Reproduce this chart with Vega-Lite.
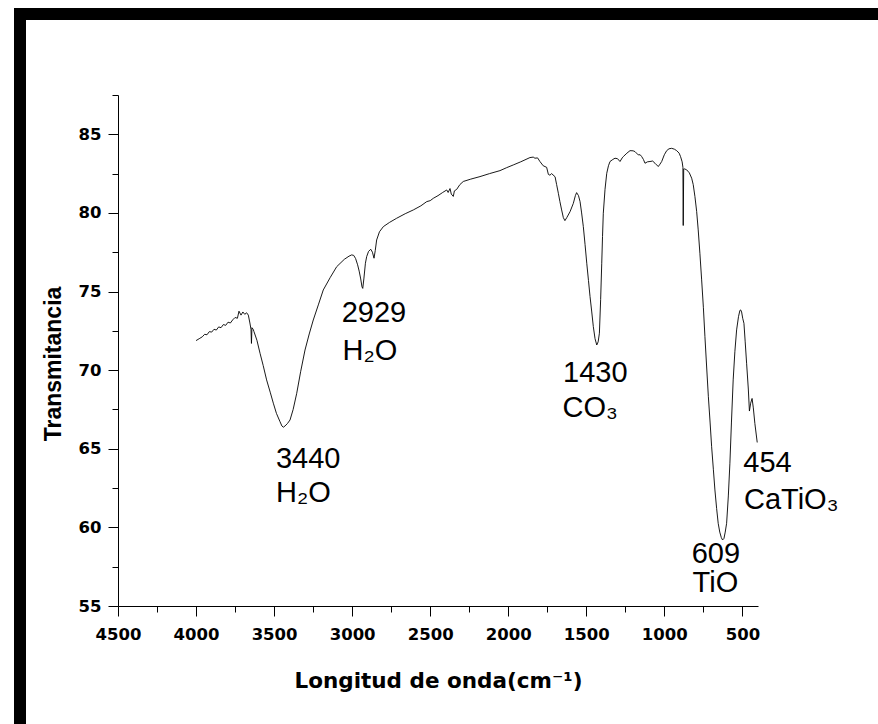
{
  "$schema": "https://vega.github.io/schema/vega-lite/v6.json",
  "autosize": "none",
  "width": 858,
  "height": 710,
  "padding": {"left": 20, "top": 14, "right": 0, "bottom": 0},
  "background": "white",
  "config": {
    "view": {"stroke": "black", "strokeWidth": 12, "strokeDash": [858, 1568, 710, 0], "strokeCap": "square"}
  },
  "datasets": {
    "spectrum": [
      {"x": 4000, "y": 71.88}, {"x": 3980, "y": 72.0}, {"x": 3960, "y": 72.12}, {"x": 3945, "y": 72.28}, {"x": 3930, "y": 72.25},
      {"x": 3915, "y": 72.45}, {"x": 3900, "y": 72.42}, {"x": 3885, "y": 72.6}, {"x": 3870, "y": 72.55}, {"x": 3855, "y": 72.75},
      {"x": 3840, "y": 72.7}, {"x": 3825, "y": 72.9}, {"x": 3810, "y": 72.85}, {"x": 3795, "y": 73.05}, {"x": 3780, "y": 73.0},
      {"x": 3765, "y": 73.2}, {"x": 3750, "y": 73.35}, {"x": 3735, "y": 73.3}, {"x": 3725, "y": 73.75}, {"x": 3712, "y": 73.5},
      {"x": 3700, "y": 73.7}, {"x": 3688, "y": 73.55}, {"x": 3676, "y": 73.65}, {"x": 3665, "y": 73.5}, {"x": 3655, "y": 73.0},
      {"x": 3648, "y": 72.6}, {"x": 3645, "y": 71.7}, {"x": 3642, "y": 72.7}, {"x": 3634, "y": 72.6}, {"x": 3629, "y": 72.45},
      {"x": 3610, "y": 71.9}, {"x": 3590, "y": 71.07}, {"x": 3570, "y": 70.3}, {"x": 3548, "y": 69.38}, {"x": 3525, "y": 68.6},
      {"x": 3505, "y": 67.9}, {"x": 3485, "y": 67.25}, {"x": 3462, "y": 66.72}, {"x": 3450, "y": 66.45}, {"x": 3441, "y": 66.37},
      {"x": 3430, "y": 66.45}, {"x": 3415, "y": 66.6}, {"x": 3398, "y": 66.83}, {"x": 3378, "y": 67.5}, {"x": 3355, "y": 68.53},
      {"x": 3330, "y": 69.9}, {"x": 3302, "y": 71.28}, {"x": 3275, "y": 72.3}, {"x": 3249, "y": 73.19}, {"x": 3215, "y": 74.2},
      {"x": 3185, "y": 75.1}, {"x": 3140, "y": 75.9}, {"x": 3099, "y": 76.58}, {"x": 3050, "y": 77.05}, {"x": 3020, "y": 77.25},
      {"x": 3003, "y": 77.33}, {"x": 2990, "y": 77.3}, {"x": 2978, "y": 77.1}, {"x": 2965, "y": 76.7}, {"x": 2955, "y": 76.3},
      {"x": 2945, "y": 75.8}, {"x": 2937, "y": 75.3}, {"x": 2932, "y": 75.2}, {"x": 2925, "y": 75.8}, {"x": 2915, "y": 76.8},
      {"x": 2907, "y": 77.22}, {"x": 2895, "y": 77.55}, {"x": 2881, "y": 77.69}, {"x": 2870, "y": 77.5}, {"x": 2860, "y": 77.12},
      {"x": 2852, "y": 77.6}, {"x": 2843, "y": 78.28}, {"x": 2825, "y": 78.8}, {"x": 2800, "y": 79.13}, {"x": 2760, "y": 79.4},
      {"x": 2715, "y": 79.66}, {"x": 2660, "y": 79.95}, {"x": 2608, "y": 80.19}, {"x": 2560, "y": 80.45}, {"x": 2522, "y": 80.72},
      {"x": 2500, "y": 80.78}, {"x": 2480, "y": 80.93}, {"x": 2450, "y": 81.1}, {"x": 2420, "y": 81.3}, {"x": 2394, "y": 81.46},
      {"x": 2385, "y": 81.3}, {"x": 2373, "y": 81.55}, {"x": 2365, "y": 81.2}, {"x": 2352, "y": 81.05}, {"x": 2345, "y": 81.4},
      {"x": 2330, "y": 81.5}, {"x": 2310, "y": 81.8}, {"x": 2288, "y": 82.0}, {"x": 2240, "y": 82.15}, {"x": 2181, "y": 82.31},
      {"x": 2120, "y": 82.5}, {"x": 2053, "y": 82.69}, {"x": 2010, "y": 82.88}, {"x": 1968, "y": 83.05}, {"x": 1920, "y": 83.25},
      {"x": 1861, "y": 83.52}, {"x": 1840, "y": 83.55}, {"x": 1829, "y": 83.48}, {"x": 1812, "y": 83.5}, {"x": 1797, "y": 83.27},
      {"x": 1776, "y": 83.0}, {"x": 1754, "y": 82.9}, {"x": 1743, "y": 82.45}, {"x": 1733, "y": 82.4}, {"x": 1722, "y": 82.5},
      {"x": 1700, "y": 82.3}, {"x": 1690, "y": 81.8}, {"x": 1679, "y": 81.25}, {"x": 1669, "y": 80.72}, {"x": 1658, "y": 80.19},
      {"x": 1647, "y": 79.7}, {"x": 1637, "y": 79.51}, {"x": 1625, "y": 79.7}, {"x": 1604, "y": 80.08}, {"x": 1583, "y": 80.61},
      {"x": 1570, "y": 81.1}, {"x": 1562, "y": 81.29}, {"x": 1550, "y": 81.1}, {"x": 1540, "y": 80.72}, {"x": 1530, "y": 80.0},
      {"x": 1519, "y": 79.13}, {"x": 1508, "y": 78.0}, {"x": 1497, "y": 76.8}, {"x": 1486, "y": 75.7}, {"x": 1476, "y": 74.68},
      {"x": 1465, "y": 73.7}, {"x": 1455, "y": 72.77}, {"x": 1444, "y": 72.0}, {"x": 1433, "y": 71.6}, {"x": 1424, "y": 71.8},
      {"x": 1416, "y": 72.35}, {"x": 1408, "y": 74.5}, {"x": 1401, "y": 76.8}, {"x": 1396, "y": 78.5}, {"x": 1391, "y": 79.98},
      {"x": 1380, "y": 81.5}, {"x": 1369, "y": 82.52}, {"x": 1358, "y": 83.0}, {"x": 1348, "y": 83.27}, {"x": 1330, "y": 83.4},
      {"x": 1316, "y": 83.48}, {"x": 1300, "y": 83.45}, {"x": 1284, "y": 83.27}, {"x": 1270, "y": 83.5}, {"x": 1263, "y": 83.58},
      {"x": 1240, "y": 83.8}, {"x": 1220, "y": 83.96}, {"x": 1200, "y": 83.95}, {"x": 1188, "y": 83.9}, {"x": 1167, "y": 83.69},
      {"x": 1155, "y": 83.7}, {"x": 1145, "y": 83.58}, {"x": 1134, "y": 83.4}, {"x": 1124, "y": 83.16}, {"x": 1108, "y": 83.25},
      {"x": 1092, "y": 83.27}, {"x": 1075, "y": 83.3}, {"x": 1060, "y": 83.16}, {"x": 1039, "y": 82.95}, {"x": 1028, "y": 83.1},
      {"x": 1017, "y": 83.27}, {"x": 1000, "y": 83.7}, {"x": 985, "y": 83.96}, {"x": 970, "y": 84.08}, {"x": 953, "y": 84.11},
      {"x": 935, "y": 84.05}, {"x": 921, "y": 83.96}, {"x": 905, "y": 83.8}, {"x": 896, "y": 83.58}, {"x": 886, "y": 83.25},
      {"x": 881, "y": 82.9}, {"x": 879, "y": 79.2}, {"x": 876, "y": 82.8}, {"x": 870, "y": 82.8}, {"x": 857, "y": 82.74},
      {"x": 840, "y": 82.55}, {"x": 825, "y": 82.21}, {"x": 815, "y": 81.8}, {"x": 804, "y": 81.04}, {"x": 793, "y": 80.1},
      {"x": 783, "y": 78.92}, {"x": 772, "y": 77.4}, {"x": 761, "y": 75.74}, {"x": 750, "y": 74.0}, {"x": 740, "y": 72.13},
      {"x": 729, "y": 70.2}, {"x": 718, "y": 68.31}, {"x": 707, "y": 66.7}, {"x": 697, "y": 65.13}, {"x": 686, "y": 63.7},
      {"x": 676, "y": 62.38}, {"x": 665, "y": 61.2}, {"x": 655, "y": 60.26}, {"x": 645, "y": 59.7}, {"x": 635, "y": 59.35},
      {"x": 627, "y": 59.2}, {"x": 618, "y": 59.3}, {"x": 610, "y": 59.7}, {"x": 601, "y": 60.26}, {"x": 590, "y": 62.0},
      {"x": 580, "y": 64.08}, {"x": 570, "y": 66.7}, {"x": 559, "y": 69.38}, {"x": 548, "y": 71.2}, {"x": 537, "y": 72.56},
      {"x": 525, "y": 73.4}, {"x": 516, "y": 73.8}, {"x": 511, "y": 73.83}, {"x": 505, "y": 73.7}, {"x": 498, "y": 73.3},
      {"x": 490, "y": 72.98}, {"x": 482, "y": 71.8}, {"x": 473, "y": 70.44}, {"x": 462, "y": 68.8}, {"x": 455, "y": 67.4},
      {"x": 447, "y": 67.9}, {"x": 438, "y": 68.2}, {"x": 430, "y": 67.6}, {"x": 420, "y": 66.6}, {"x": 405, "y": 65.4}
    ],
    "labels": [
      {"x": 3488, "y": 63.78, "t": "3440"},
      {"x": 3488, "y": 61.62, "t": "H₂O"},
      {"x": 3067, "y": 73.09, "t": "2929"},
      {"x": 3061, "y": 70.65, "t": "H₂O"},
      {"x": 1649, "y": 69.23, "t": "1430"},
      {"x": 1652, "y": 67.02, "t": "CO₃"},
      {"x": 825, "y": 57.72, "t": "609"},
      {"x": 819, "y": 55.86, "t": "TiO"},
      {"x": 494, "y": 63.54, "t": "454"},
      {"x": 490, "y": 61.15, "t": "CaTiO₃"}
    ]
  },
  "layer": [
    {
      "data": {"name": "spectrum"},
      "mark": {"type": "line", "color": "black", "strokeWidth": 0.9},
      "encoding": {
        "x": {
          "field": "x", "type": "quantitative",
          "scale": {"domain": [4500, 400], "range": [98, 738], "nice": false, "zero": false},
          "axis": {
            "orient": "bottom", "offset": -118, "grid": false, "zindex": 1,
            "values": [4500, 4250, 4000, 3750, 3500, 3250, 3000, 2750, 2500, 2250, 2000, 1750, 1500, 1250, 1000, 750, 500],
            "format": "d",
            "labelExpr": "datum.value % 500 === 0 ? datum.label : ''",
            "labelFlush": false, "labelOverlap": false,
            "domainColor": "black", "domainWidth": 1,
            "tickColor": "black", "tickWidth": 1,
            "tickSize": {"condition": {"test": "datum.value % 500 === 0", "value": 10}, "value": 6},
            "labelFont": "DejaVu Sans", "labelFontWeight": "bold", "labelFontSize": 16.5, "labelColor": "black", "labelPadding": 10,
            "title": "Longitud de onda(cm⁻¹)",
            "titleFont": "DejaVu Sans", "titleFontWeight": "bold", "titleFontSize": 21.5, "titleColor": "black", "titlePadding": 28
          }
        },
        "y": {
          "field": "y", "type": "quantitative",
          "scale": {"domain": [55, 87.5], "range": [592, 81], "nice": false, "zero": false},
          "axis": {
            "orient": "left", "offset": -98, "grid": false, "zindex": 1,
            "values": [55, 57.5, 60, 62.5, 65, 67.5, 70, 72.5, 75, 77.5, 80, 82.5, 85, 87.5],
            "format": "d",
            "labelExpr": "datum.value % 5 === 0 ? datum.label : ''",
            "labelFlush": false, "labelOverlap": false,
            "domainColor": "black", "domainWidth": 1,
            "tickColor": "black", "tickWidth": 1,
            "tickSize": {"condition": {"test": "datum.value % 5 === 0", "value": 10}, "value": 6},
            "labelFont": "DejaVu Sans", "labelFontWeight": "bold", "labelFontSize": 16.5, "labelColor": "black", "labelPadding": 7,
            "title": "Transmitancia", "titleY": 349.5,
            "titleFont": "Liberation Sans", "titleFontWeight": "bold", "titleFontSize": 23, "titleColor": "black", "titlePadding": 13
          }
        }
      }
    },
    {
      "data": {"name": "labels"},
      "mark": {"type": "text", "align": "left", "baseline": "alphabetic", "font": "Liberation Sans", "fontSize": 29, "color": "black"},
      "encoding": {
        "x": {"field": "x", "type": "quantitative"},
        "y": {"field": "y", "type": "quantitative"},
        "text": {"field": "t", "type": "nominal"}
      }
    }
  ]
}
